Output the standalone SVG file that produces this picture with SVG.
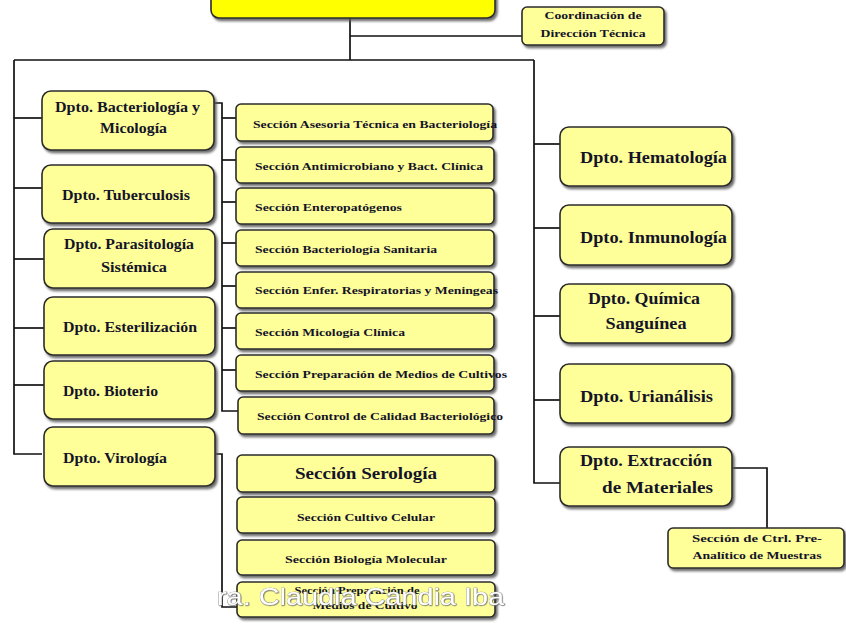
<svg xmlns="http://www.w3.org/2000/svg" width="846" height="627" viewBox="0 0 846 627">
  <defs>
    <filter id="shadow" x="-10%" y="-20%" width="130%" height="150%">
      <feDropShadow dx="2" dy="2.5" stdDeviation="0.8" flood-color="#555" flood-opacity="0.85"/>
    </filter>
    <filter id="wmShadow" x="-5%" y="-20%" width="110%" height="150%">
      <feDropShadow dx="0.5" dy="0.5" stdDeviation="0.7" flood-color="#555" flood-opacity="1"/>
    </filter>
  </defs>
  <style>
    .box { fill: #FFFF99; stroke: #2b2b2b; stroke-width: 1.6; filter: url(#shadow); }
    .top { fill: #FFFF00; stroke: #2b2b2b; stroke-width: 1.6; filter: url(#shadow); }
    .lbl { font-family: "Liberation Serif", "Times New Roman", serif; font-weight: bold; fill: #141428; }
    .dep { font-size: 15px; }
    .depR { font-size: 17px; }
    .sec { font-size: 10.5px; }
    .small { font-size: 10px; }
    .wire { fill: none; stroke: #111; stroke-width: 1.7; }
    .wm { font-family: "Liberation Sans", Arial, sans-serif; font-size: 24px; fill: #ffffff; stroke: #9a9a9a; stroke-width: 0.6; paint-order: stroke; filter: url(#wmShadow); }
  </style>

  <!-- connectors -->
  <g id="connectors">
    <polyline class="wire" points="350,18 350,60"/>
    <polyline class="wire" points="350,36 522,36"/>
    <polyline class="wire" points="14,60 534,60"/>
    <!-- left trunk -->
    <polyline class="wire" points="14,60 14,454 42,454"/>
    <polyline class="wire" points="14,118 42,118"/>
    <polyline class="wire" points="14,188 42,188"/>
    <polyline class="wire" points="14,259 44,259"/>
    <polyline class="wire" points="14,328 44,328"/>
    <polyline class="wire" points="14,385 44,385"/>
    <!-- right trunk -->
    <polyline class="wire" points="534,60 534,483 561,483"/>
    <polyline class="wire" points="534,144 561,144"/>
    <polyline class="wire" points="534,228 561,228"/>
    <polyline class="wire" points="534,316 561,316"/>
    <polyline class="wire" points="534,400 561,400"/>
    <!-- bacteriology sections -->
    <polyline class="wire" points="213,103 222,103 222,411 238,411"/>
    <polyline class="wire" points="222,118 236,118"/>
    <polyline class="wire" points="222,160 236,160"/>
    <polyline class="wire" points="222,202 236,202"/>
    <polyline class="wire" points="222,243 236,243"/>
    <polyline class="wire" points="222,286 236,286"/>
    <polyline class="wire" points="222,328 236,328"/>
    <polyline class="wire" points="222,370 236,370"/>
    <!-- virology sections -->
    <polyline class="wire" points="215,454 222,454 222,607 238,607"/>
    <!-- extraction sub-section -->
    <polyline class="wire" points="728,468 767,468 767,528"/>
  </g>

  <!-- head -->
  <g id="direccion">
    <rect class="top" x="211" y="-12" width="284" height="30" rx="8"/>
  </g>
  <g id="coordinacion">
    <rect class="box" x="522" y="7" width="142" height="38" rx="5"/>
    <text class="lbl small" x="593" y="19" text-anchor="middle" textLength="97" lengthAdjust="spacingAndGlyphs">Coordinación de</text>
    <text class="lbl small" x="593" y="37" text-anchor="middle" textLength="105" lengthAdjust="spacingAndGlyphs">Dirección Técnica</text>
  </g>

  <!-- left departments -->
  <g id="dpto-bacteriologia">
    <rect class="box" x="42" y="91" width="172" height="59" rx="9"/>
    <text class="lbl dep" x="55" y="112" textLength="145" lengthAdjust="spacingAndGlyphs">Dpto. Bacteriología y</text>
    <text class="lbl dep" x="100" y="133" textLength="67" lengthAdjust="spacingAndGlyphs">Micología</text>
  </g>
  <g id="dpto-tuberculosis">
    <rect class="box" x="42" y="165" width="172" height="58" rx="9"/>
    <text class="lbl dep" x="62" y="200" textLength="128" lengthAdjust="spacingAndGlyphs">Dpto. Tuberculosis</text>
  </g>
  <g id="dpto-parasitologia">
    <rect class="box" x="44" y="229" width="171" height="59" rx="9"/>
    <text class="lbl dep" x="64" y="249" textLength="130" lengthAdjust="spacingAndGlyphs">Dpto. Parasitología</text>
    <text class="lbl dep" x="101" y="272" textLength="66" lengthAdjust="spacingAndGlyphs">Sistémica</text>
  </g>
  <g id="dpto-esterilizacion">
    <rect class="box" x="44" y="297" width="171" height="58" rx="9"/>
    <text class="lbl dep" x="63" y="332" textLength="134" lengthAdjust="spacingAndGlyphs">Dpto. Esterilización</text>
  </g>
  <g id="dpto-bioterio">
    <rect class="box" x="44" y="361" width="171" height="58" rx="9"/>
    <text class="lbl dep" x="63" y="396" textLength="95" lengthAdjust="spacingAndGlyphs">Dpto. Bioterio</text>
  </g>
  <g id="dpto-virologia">
    <rect class="box" x="44" y="427" width="171" height="59" rx="9"/>
    <text class="lbl dep" x="63" y="463" textLength="104" lengthAdjust="spacingAndGlyphs">Dpto. Virología</text>
  </g>

  <!-- bacteriology sections -->
  <g id="sec-asesoria">
    <rect class="box" x="236" y="104" width="257" height="37" rx="5"/>
    <text class="lbl sec" x="253" y="128" textLength="244" lengthAdjust="spacingAndGlyphs">Sección Asesoria Técnica en Bacteriología</text>
  </g>
  <g id="sec-antimicrobiano">
    <rect class="box" x="236" y="147" width="258" height="36" rx="5"/>
    <text class="lbl sec" x="255" y="170" textLength="228" lengthAdjust="spacingAndGlyphs">Sección Antimicrobiano y Bact. Clínica</text>
  </g>
  <g id="sec-enteropatogenos">
    <rect class="box" x="236" y="188" width="258" height="36" rx="5"/>
    <text class="lbl sec" x="255" y="211" textLength="147" lengthAdjust="spacingAndGlyphs">Sección Enteropatógenos</text>
  </g>
  <g id="sec-sanitaria">
    <rect class="box" x="236" y="230" width="258" height="36" rx="5"/>
    <text class="lbl sec" x="255" y="253" textLength="182" lengthAdjust="spacingAndGlyphs">Sección Bacteriología Sanitaria</text>
  </g>
  <g id="sec-respiratorias">
    <rect class="box" x="236" y="272" width="258" height="36" rx="5"/>
    <text class="lbl sec" x="255" y="294" textLength="243" lengthAdjust="spacingAndGlyphs">Sección Enfer. Respiratorias y Meningeas</text>
  </g>
  <g id="sec-micologia">
    <rect class="box" x="236" y="313" width="258" height="36" rx="5"/>
    <text class="lbl sec" x="255" y="336" textLength="150" lengthAdjust="spacingAndGlyphs">Sección Micología Clínica</text>
  </g>
  <g id="sec-medios">
    <rect class="box" x="236" y="355" width="258" height="36" rx="5"/>
    <text class="lbl sec" x="255" y="378" textLength="252" lengthAdjust="spacingAndGlyphs">Sección Preparación de Medios de Cultivos</text>
  </g>
  <g id="sec-calidad">
    <rect class="box" x="238" y="397" width="256" height="37" rx="5"/>
    <text class="lbl sec" x="257" y="420" textLength="246" lengthAdjust="spacingAndGlyphs">Sección Control de Calidad Bacteriológico</text>
  </g>

  <!-- virology sections -->
  <g id="sec-serologia">
    <rect class="box" x="237" y="455" width="258" height="37" rx="5"/>
    <text class="lbl" x="366" y="479" font-size="17" text-anchor="middle" textLength="142" lengthAdjust="spacingAndGlyphs">Sección  Serología</text>
  </g>
  <g id="sec-cultivo-celular">
    <rect class="box" x="237" y="497" width="258" height="36" rx="5"/>
    <text class="lbl sec" x="366" y="521" text-anchor="middle" textLength="138" lengthAdjust="spacingAndGlyphs">Sección Cultivo Celular</text>
  </g>
  <g id="sec-biologia-molecular">
    <rect class="box" x="237" y="540" width="258" height="35" rx="5"/>
    <text class="lbl sec" x="366" y="563" text-anchor="middle" textLength="162" lengthAdjust="spacingAndGlyphs">Sección  Biología Molecular</text>
  </g>
  <g id="sec-preparacion-medios">
    <rect class="box" x="237" y="582" width="258" height="35" rx="5"/>
    <text class="lbl sec" x="357" y="594" text-anchor="middle" textLength="125" lengthAdjust="spacingAndGlyphs">Sección Preparación de</text>
    <text class="lbl sec" x="365" y="609" text-anchor="middle" textLength="105" lengthAdjust="spacingAndGlyphs">Medios de Cultivo</text>
  </g>

  <!-- right departments -->
  <g id="dpto-hematologia">
    <rect class="box" x="560" y="127" width="172" height="59" rx="9"/>
    <text class="lbl depR" x="580" y="163" textLength="147" lengthAdjust="spacingAndGlyphs">Dpto. Hematología</text>
  </g>
  <g id="dpto-inmunologia">
    <rect class="box" x="560" y="205" width="172" height="60" rx="9"/>
    <text class="lbl depR" x="580" y="243" textLength="147" lengthAdjust="spacingAndGlyphs">Dpto. Inmunología</text>
  </g>
  <g id="dpto-quimica">
    <rect class="box" x="560" y="284" width="172" height="59" rx="9"/>
    <text class="lbl depR" x="644" y="304" text-anchor="middle" textLength="112" lengthAdjust="spacingAndGlyphs">Dpto. Química</text>
    <text class="lbl depR" x="646" y="329" text-anchor="middle" textLength="81" lengthAdjust="spacingAndGlyphs">Sanguínea</text>
  </g>
  <g id="dpto-urianalisis">
    <rect class="box" x="560" y="364" width="172" height="59" rx="9"/>
    <text class="lbl depR" x="580" y="402" textLength="133" lengthAdjust="spacingAndGlyphs">Dpto. Urianálisis</text>
  </g>
  <g id="dpto-extraccion">
    <rect class="box" x="560" y="447" width="172" height="59" rx="9"/>
    <text class="lbl depR" x="580" y="466" textLength="132" lengthAdjust="spacingAndGlyphs">Dpto. Extracción</text>
    <text class="lbl depR" x="602" y="493" textLength="111" lengthAdjust="spacingAndGlyphs">de Materiales</text>
  </g>
  <g id="sec-ctrl-preanalitico">
    <rect class="box" x="668" y="528" width="176" height="40" rx="5"/>
    <text class="lbl small" x="757" y="542" text-anchor="middle" textLength="130" lengthAdjust="spacingAndGlyphs">Sección de Ctrl. Pre-</text>
    <text class="lbl small" x="757" y="559" text-anchor="middle" textLength="129" lengthAdjust="spacingAndGlyphs">Analítico de Muestras</text>
  </g>

  <!-- overlaid caption -->
  <text class="wm" x="217" y="605" textLength="287" lengthAdjust="spacingAndGlyphs">ra. Claudia Candia Iba</text>
</svg>
